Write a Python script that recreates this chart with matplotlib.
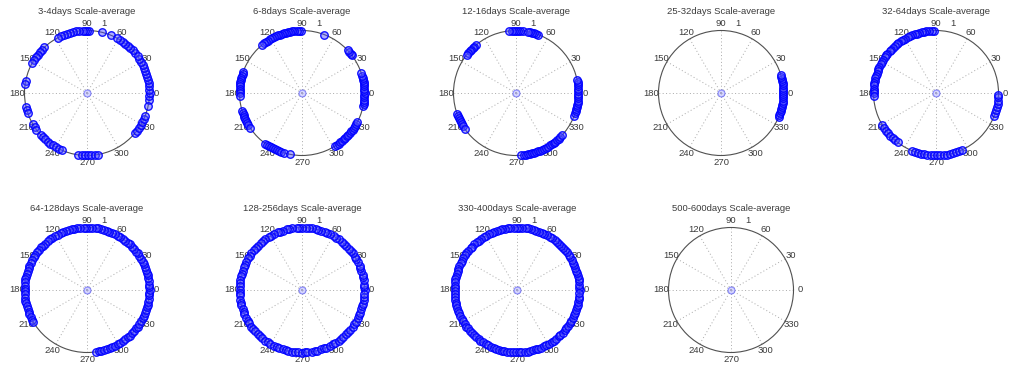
import numpy as np
import matplotlib
matplotlib.use("Agg")
import matplotlib.pyplot as plt

plt.rcParams['font.family'] = ['Liberation Sans', 'DejaVu Sans']

# scale-averaged phase angles (degrees), all on the unit circle
titles = ["3-4days Scale-average", "6-8days Scale-average", "12-16days Scale-average",
          "25-32days Scale-average", "32-64days Scale-average", "64-128days Scale-average",
          "128-256days Scale-average", "330-400days Scale-average", "500-600days Scale-average"]

ang_3_4 = [88, 90, 92, 94, 97, 100, 103, 106, 109, 112, 115, 118, 67, 76,
           40, 43, 46, 49, 52, 55, 58, 61, 354, 357, 0, 3, 6, 9, 12, 15, 18, 21, 24, 27, 30, 33, 36,
           348, 320, 323, 326, 329, 332, 335, 338, 262, 265, 268, 271, 274, 277, 280,
           222, 225, 228, 231, 234, 237, 240, 243, 246, 210, 213, 216, 193, 196, 199,
           169, 172, 133, 136, 139, 142, 145, 148, 151]
ang_6_8 = [91, 93, 95, 97, 99, 101, 103, 105, 107, 109, 111, 113, 115, 117, 119, 121, 123, 125, 127, 130,
           69, 37, 39, 41, 43, 348, 350, 352, 354, 356, 358, 0, 2, 4, 6, 8, 10, 12, 14, 16, 19,
           302, 304, 306, 308, 310, 312, 314, 316, 318, 320, 322, 324, 326, 328, 330, 332,
           234, 236, 238, 240, 242, 244, 246, 248, 250, 253, 259,
           197, 199, 201, 203, 205, 207, 209, 211, 214,
           160, 162, 164, 166, 168, 170, 172, 174, 176, 178, 180, 183]
ang_12_16 = [84, 86, 88, 90, 92, 94, 96, 69, 71, 73, 75, 77, 79,
             130, 132, 134, 136, 138, 140, 142, 200, 202, 204, 206, 208, 210, 212, 215,
             338, 341, 343, 345, 347, 349, 351, 353, 355, 357, 359, 2, 4, 6, 8, 10, 12,
             275, 277, 279, 281, 283, 285, 287, 289, 291, 293, 295, 297, 299, 301, 303, 305,
             307, 309, 311, 313, 315, 318]
ang_25_32 = [337, 339, 341, 343, 345, 347, 349, 351, 353, 355, 357, 359, 1, 3, 5, 7, 9, 11, 13, 15, 17]
ang_32_64 = [92, 94, 96, 99, 101, 103, 106, 108, 110, 113, 115, 117, 120, 122, 124, 127, 129, 131,
             134, 136, 138, 141, 143, 145, 148, 150, 152, 155, 157, 159, 162, 164, 166, 169, 171,
             173, 176, 178, 180, 183, 338, 341, 344, 347, 350, 353, 356, 358,
             211, 214, 217, 220, 223, 226, 229, 232,
             247, 250, 253, 256, 259, 262, 265, 268, 271, 274, 277, 280, 283, 286, 289, 292, 295]
ang_64_128 = [278, 281, 283, 286, 289, 292, 294, 297, 300, 302, 305, 308, 311, 313, 316, 319, 322,
              324, 327, 330, 333, 335, 338, 341, 344, 346, 349, 352, 355, 357, 0, 3, 5, 8, 11, 14,
              16, 19, 22, 25, 27, 30, 33, 36, 38, 41, 44, 47, 49, 52, 55, 58, 60, 63, 66, 69, 71,
              74, 77, 80, 82, 85, 88, 91, 93, 96, 99, 102, 104, 107, 110, 113, 115, 118, 121, 124,
              126, 129, 132, 135, 137, 140, 143, 146, 148, 151, 154, 157, 159, 162, 165, 168, 170,
              173, 176, 179, 181, 184, 187, 190, 192, 195, 198, 201, 203, 206, 209, 211]
ang_128_256 = [0, 3, 5, 9, 12, 14, 18, 21, 23, 27, 30, 32, 36, 39, 41, 45, 48, 50, 54, 57, 59, 63,
               66, 68, 72, 75, 77, 81, 84, 86, 90, 93, 95, 99, 102, 104, 108, 111, 113, 117, 120,
               122, 126, 129, 131, 135, 138, 140, 144, 147, 149, 153, 156, 158, 162, 165, 167, 171,
               174, 176, 180, 183, 185, 189, 192, 194, 198, 201, 203, 207, 210, 212, 216, 219, 221,
               225, 228, 230, 234, 237, 239, 243, 246, 248, 252, 255, 257, 261, 264, 266, 270, 273,
               275, 279, 282, 284, 288, 291, 293, 297, 300, 302, 306, 309, 311, 315, 318, 320, 324,
               327, 329, 333, 336, 338, 342, 345, 347, 351, 354, 356]
ang_330_400 = [0, 2, 5, 8, 10, 13, 16, 18, 21, 24, 26, 29, 32, 34, 37, 40, 42, 45, 48, 50, 53, 56,
               58, 61, 64, 66, 69, 72, 74, 77, 80, 82, 85, 88, 90, 93, 96, 98, 101, 104, 106, 109,
               112, 114, 117, 120, 122, 125, 128, 130, 133, 136, 138, 141, 144, 146, 149, 152, 154,
               157, 160, 162, 165, 168, 170, 173, 176, 178, 181, 184, 186, 189, 192, 194, 197, 200,
               202, 205, 208, 210, 213, 216, 218, 221, 224, 226, 229, 232, 234, 237, 240, 242, 245,
               248, 250, 253, 256, 258, 261, 264, 266, 269, 272, 274, 277, 280, 282, 285, 288, 290,
               293, 296, 298, 301, 304, 306, 309, 312, 314, 317, 320, 322, 325, 328, 330, 333, 336,
               338, 341, 344, 346, 349, 352, 354, 357]
ang_500_600 = []

angles = [ang_3_4, ang_6_8, ang_12_16, ang_25_32, ang_32_64,
          ang_64_128, ang_128_256, ang_330_400, ang_500_600]

# panel centres in pixels (x from left, y from top)
centres = [(87, 93), (302, 93), (516, 93), (721, 93), (936, 93),
           (87, 290), (302, 290), (517, 290), (731, 290)]
R = 62.5
W, H = 1013, 374

fig = plt.figure(figsize=(W / 100, H / 100), dpi=100)
txt = '#3c3c3c'

for title, ang, (cx, cy) in zip(titles, angles, centres):
    ax = fig.add_axes([(cx - R) / W, 1 - (cy + R) / H, 2 * R / W, 2 * R / H], projection='polar')
    ax.set_ylim(0, 1)
    ax.set_yticks([])
    ax.set_thetagrids(np.arange(0, 360, 30), labels=[''] * 12)
    ax.xaxis.grid(True, linestyle=(0, (1, 2.5)), color='#a8a8a8', linewidth=0.7)
    ax.spines['polar'].set_color('#505050')
    ax.spines['polar'].set_linewidth(0.8)
    ax.set_facecolor('white')

    for d in range(0, 360, 30):
        ax.text(np.deg2rad(d), 1.11, str(d), ha='center', va='center',
                fontsize=6.8, color=txt, clip_on=False)
    ax.text(np.deg2rad(76), 1.15, '1', ha='center', va='center', fontsize=6.8, color=txt, clip_on=False)
    ax.text(0.5, 1.0 + 19 / (2 * R), title, transform=ax.transAxes, ha='center', va='center',
            fontsize=6.8, color=txt)

    th = np.deg2rad(ang)
    ax.plot(th, np.ones(len(ang)), 'o', mfc=(0.3, 0.3, 1.0, 0.45), mec=(0.0, 0.0, 1.0, 0.9),
            ms=5.4, mew=1.0, clip_on=False, zorder=3)
    ax.plot([0], [0], 'o', mfc=(0.6, 0.6, 1.0, 0.4), mec=(0.3, 0.3, 1.0, 0.6), ms=5, mew=0.8, zorder=3)

fig.savefig('out.png', dpi=100)
